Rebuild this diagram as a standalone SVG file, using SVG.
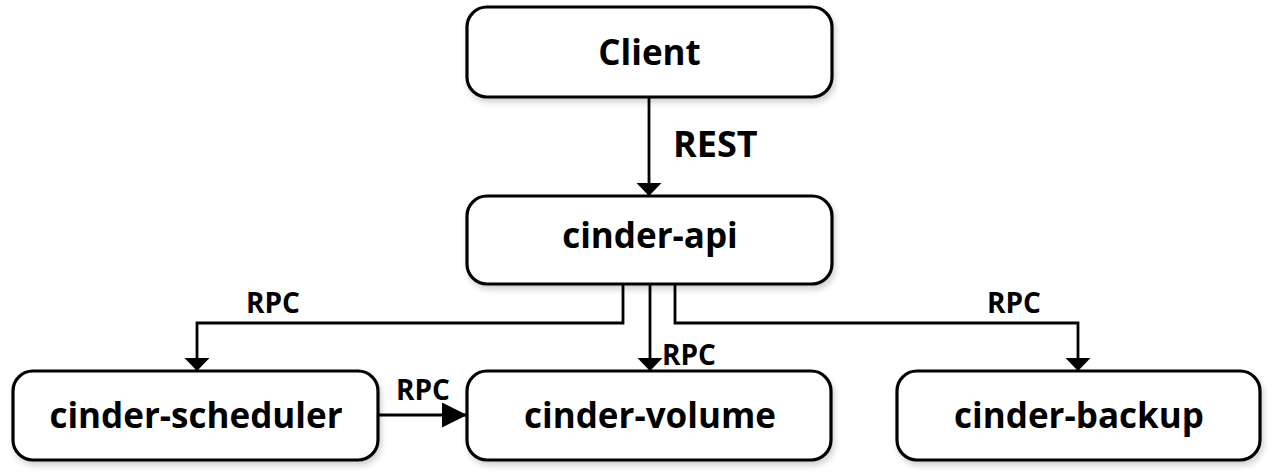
<svg xmlns="http://www.w3.org/2000/svg" width="1273" height="472" viewBox="0 0 1273 472">
<style>
.box{fill:#ffffff;stroke:#000000;stroke-width:3.2;filter:url(#sh)}
.lbl{font-family:"Open Sans","Noto Sans","DejaVu Sans",sans-serif;font-weight:bold;font-size:35px;fill:#000000;text-anchor:middle}
.edge{font-family:"Open Sans","Noto Sans","DejaVu Sans",sans-serif;font-weight:bold;font-size:28px;fill:#000000}
.ln{fill:none;stroke:#000000;stroke-width:2.8}
</style>
<defs>
<filter id="sh" x="-5%" y="-10%" width="110%" height="130%">
<feGaussianBlur in="SourceAlpha" stdDeviation="3"/>
<feOffset dx="2" dy="4" result="b"/>
<feComponentTransfer><feFuncA type="linear" slope="0.18"/></feComponentTransfer>
<feMerge><feMergeNode/><feMergeNode in="SourceGraphic"/></feMerge>
</filter>
<marker id="ah" markerUnits="userSpaceOnUse" markerWidth="16" markerHeight="26" refX="13" refY="12.5" orient="auto">
<polygon points="0,0 13,12.5 0,25" fill="#000000"/>
</marker>
<marker id="ahL" markerUnits="userSpaceOnUse" markerWidth="28" markerHeight="28" refX="25" refY="12.5" orient="auto">
<polygon points="0,0 25,12.5 0,25" fill="#000000"/>
</marker>
</defs>
<g id="connectors">
<path class="ln" d="M649,97 V196" marker-end="url(#ah)"/>
<path class="ln" d="M623,284 V323 H197 V371" marker-end="url(#ah)"/>
<path class="ln" d="M650,284 V371" marker-end="url(#ah)"/>
<path class="ln" d="M675,284 V323 H1078 V371" marker-end="url(#ah)"/>
<path class="ln" d="M378,415 H467" marker-end="url(#ahL)"/>
<text class="edge" x="673" y="157" style="font-size:36px">REST</text>
<text class="edge" x="246" y="313">RPC</text>
<text class="edge" x="662" y="365">RPC</text>
<text class="edge" x="396" y="400">RPC</text>
<text class="edge" x="987" y="313">RPC</text>
</g>
<g id="client">
<rect class="box" x="467" y="7" width="365" height="90" rx="20"/>
<text class="lbl" x="649.5" y="65">Client</text>
</g>
<g id="cinder-api">
<rect class="box" x="467" y="196" width="365" height="88" rx="20"/>
<text class="lbl" x="650" y="248">cinder-api</text>
</g>
<g id="cinder-scheduler">
<rect class="box" x="13" y="371" width="365" height="89" rx="20"/>
<text class="lbl" x="196" y="428">cinder-scheduler</text>
</g>
<g id="cinder-volume">
<rect class="box" x="467" y="371" width="364" height="89" rx="20"/>
<text class="lbl" x="650" y="428">cinder-volume</text>
</g>
<g id="cinder-backup">
<rect class="box" x="897" y="371" width="363" height="89" rx="20"/>
<text class="lbl" x="1079" y="428">cinder-backup</text>
</g>
</svg>
